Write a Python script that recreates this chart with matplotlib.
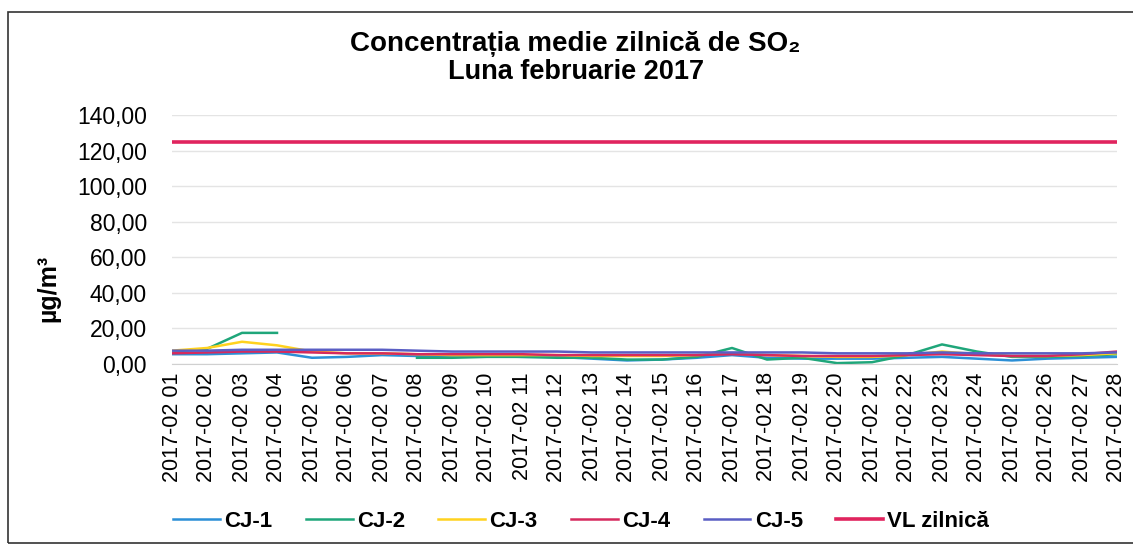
import numpy as np
import matplotlib
matplotlib.use("Agg")
import matplotlib.pyplot as plt
from matplotlib.patches import Rectangle

plt.rcParams["font.family"] = ["Liberation Sans", "DejaVu Sans"]

days = [f"2017-02 {d:02d}" for d in range(1, 29)]

cj1 = [5.5, 5.5, 6, 6.5, 3.5, 4, 5, 4.5, 4.5, 4.5, 4, 4, 3, 2, 2.5, 3.5,
       5, 3.5, 3, 3, 3, 3.5, 4, 3, 2, 3, 3.5, 4]
cj2 = [7, 8.5, 17.5, 17.5, np.nan, np.nan, np.nan, 3.5, 3.5, 4, 4, 3.5, 3.5,
       2.5, 2.5, 4, 9, 2.5, 3.5, 0.5, 1, 5, 11, 7, 4, 4, 4.5, 5.5]
cj3 = [7.5, 9, 12.5, 10.5, 7, 6, 6, 5.5, 5, 5, 5, 5, 4.5, 4.5, 4.5, 5,
       6, 5, 4.5, 4, 4, 5, 7, 5.5, 4.5, 4.5, 5, 6]
cj4 = [6, 6.5, 7, 7, 6.5, 6, 6, 5.5, 5.5, 5.5, 5.5, 5, 5, 5, 5, 5,
       5.5, 5, 4.5, 4.5, 4.5, 5, 5.5, 5, 4.5, 4.5, 5.5, 7]
cj5 = [7.5, 7.5, 8, 8, 8, 8, 8, 7.5, 7, 7, 7, 7, 6.5, 6.5, 6.5, 6.5,
       6.5, 6.5, 6.5, 6, 6, 6, 6.5, 6, 6, 6, 6, 6.5]
vl = [125] * 28

series = [
    ("CJ-1", cj1, "#2b8fd6", 1.8),
    ("CJ-2", cj2, "#1fa67a", 1.8),
    ("CJ-3", cj3, "#ffd21f", 1.8),
    ("CJ-4", cj4, "#d62a5e", 1.8),
    ("CJ-5", cj5, "#5a5ec4", 1.8),
    ("VL zilnică", vl, "#e0245e", 2.6),
]

fig = plt.figure(figsize=(11.33, 5.45), dpi=100)
ax = fig.add_axes([172 / 1133, 181 / 545, 945 / 1133, 249 / 545])

x = np.arange(1, 29)
for name, vals, col, lw in series:
    ax.plot(x, vals, color=col, lw=lw, label=name)

ax.set_xlim(1, 28)
ax.set_ylim(0, 140)
ax.set_yticks(np.arange(0, 141, 20))
ax.set_yticklabels([f"{v:.2f}".replace(".", ",") for v in range(0, 141, 20)],
                   fontsize=16.5)
ax.set_xticks(x)
ax.set_xticklabels(days, rotation=90, fontsize=15.5)
ax.tick_params(axis="y", length=0, pad=18)
ax.tick_params(axis="x", length=0, pad=6)
ax.grid(axis="y", color="#e4e4e4", lw=1)
for s in ["top", "right", "left"]:
    ax.spines[s].set_visible(False)
ax.spines["bottom"].set_color("#d0d0d0")

fig.text(48 / 1133, 0.47, "µg/m³", rotation=90, ha="center", va="center",
         fontsize=18, fontweight="bold")

fig.text(0.508, 0.92, "Concentrația medie zilnică de SO₂", ha="center",
         va="center", fontsize=20, fontweight="bold")
fig.text(0.508, 0.868, "Luna februarie 2017", ha="center", va="center",
         fontsize=19.5, fontweight="bold")

fig.legend(loc="center", bbox_to_anchor=(0.513, 0.043), ncol=6, frameon=False,
           prop={"weight": "bold", "size": 16}, handlelength=2.1,
           columnspacing=1.5, handletextpad=0.2)

fig.patches.append(Rectangle((8 / 1133, 2 / 545), 1130 / 1133, 531 / 545,
                             transform=fig.transFigure, fill=False,
                             edgecolor="#333333", lw=1.2))

fig.savefig("out.png", dpi=100)
